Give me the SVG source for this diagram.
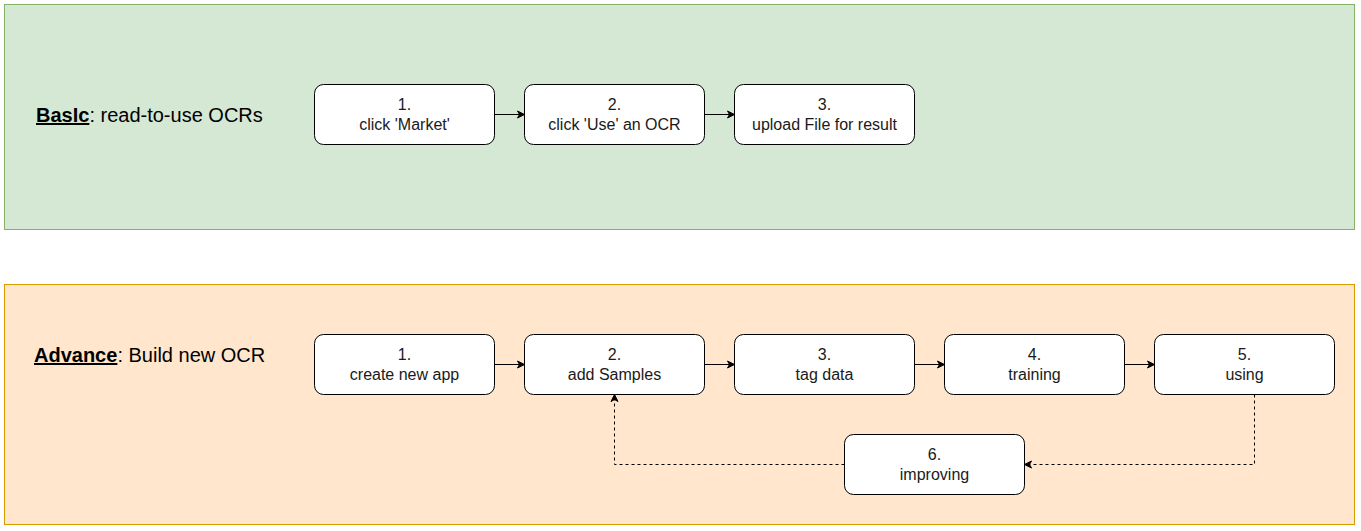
<svg xmlns="http://www.w3.org/2000/svg" width="1361" height="531" viewBox="0 0 1361 531">
<style>
.node{fill:#fff;stroke:#000;stroke-width:1}
.t{font-family:"Liberation Sans",Arial,sans-serif;font-size:16px;fill:#1a1a1a;text-anchor:middle}
.lbl{font-family:"Liberation Sans",Arial,sans-serif;font-size:20px;fill:#000}
.b{font-weight:bold;text-decoration:underline}
.c{fill:none;stroke:#000;stroke-width:1}
.d{stroke-dasharray:3,3}
</style>
<defs>
<marker id="ah" markerWidth="10" markerHeight="10" refX="8" refY="5" orient="auto" markerUnits="userSpaceOnUse">
<path d="M1,1.5 L8,5 L1,8.5 L3,5 Z" fill="#000" stroke="#000" stroke-width="1"/>
</marker>
</defs>
<g id="basic-container">
<rect x="4.5" y="4.5" width="1350" height="225" fill="#d5e8d4" stroke="#82b366"/>
<text class="lbl" x="36" y="122"><tspan class="b">BasIc</tspan>: read-to-use OCRs</text>
</g>
<g id="advance-container">
<rect x="4.5" y="284.5" width="1350" height="240" fill="#ffe6cc" stroke="#d79b00"/>
<text class="lbl" x="34" y="362"><tspan class="b">Advance</tspan>: Build new OCR</text>
</g>
<g id="b1"><rect class="node" x="314.5" y="84.5" width="180" height="60" rx="9"/><text class="t" x="404.5" y="110">1.</text><text class="t" x="404.5" y="130">click 'Market'</text></g>
<g id="b2"><rect class="node" x="524.5" y="84.5" width="180" height="60" rx="9"/><text class="t" x="614.5" y="110">2.</text><text class="t" x="614.5" y="130">click 'Use' an OCR</text></g>
<g id="b3"><rect class="node" x="734.5" y="84.5" width="180" height="60" rx="9"/><text class="t" x="824.5" y="110">3.</text><text class="t" x="824.5" y="130">upload File for result</text></g>
<g id="a1"><rect class="node" x="314.5" y="334.5" width="180" height="60" rx="9"/><text class="t" x="404.5" y="360">1.</text><text class="t" x="404.5" y="380">create new app</text></g>
<g id="a2"><rect class="node" x="524.5" y="334.5" width="180" height="60" rx="9"/><text class="t" x="614.5" y="360">2.</text><text class="t" x="614.5" y="380">add Samples</text></g>
<g id="a3"><rect class="node" x="734.5" y="334.5" width="180" height="60" rx="9"/><text class="t" x="824.5" y="360">3.</text><text class="t" x="824.5" y="380">tag data</text></g>
<g id="a4"><rect class="node" x="944.5" y="334.5" width="180" height="60" rx="9"/><text class="t" x="1034.5" y="360">4.</text><text class="t" x="1034.5" y="380">training</text></g>
<g id="a5"><rect class="node" x="1154.5" y="334.5" width="180" height="60" rx="9"/><text class="t" x="1244.5" y="360">5.</text><text class="t" x="1244.5" y="380">using</text></g>
<g id="a6"><rect class="node" x="844.5" y="434.5" width="180" height="60" rx="9"/><text class="t" x="934.5" y="460">6.</text><text class="t" x="934.5" y="480">improving</text></g>
<g id="connectors">
<path class="c" d="M494.5,114.5 H524.5" marker-end="url(#ah)"/>
<path class="c" d="M704.5,114.5 H734.5" marker-end="url(#ah)"/>
<path class="c" d="M494.5,364.5 H524.5" marker-end="url(#ah)"/>
<path class="c" d="M704.5,364.5 H734.5" marker-end="url(#ah)"/>
<path class="c" d="M914.5,364.5 H944.5" marker-end="url(#ah)"/>
<path class="c" d="M1124.5,364.5 H1154.5" marker-end="url(#ah)"/>
<path class="c d" d="M1254.5,394.5 V464.5 H1024.5" marker-end="url(#ah)"/>
<path class="c d" d="M844.5,464.5 H614.5 V394.5" marker-end="url(#ah)"/>
</g>
</svg>
